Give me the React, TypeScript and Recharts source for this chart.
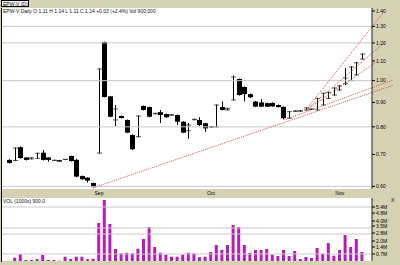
import { ComposedChart, Bar, XAxis, YAxis, ReferenceLine } from 'recharts';

// daily candles, oldest first
const opens = [
  0.682, 0.68, 0.725, 0.69, 0.685, 0.687, 0.706, 0.69, 0.68, 0.681, 0.683, 0.695, 0.682, 0.631, 0.626, 0.61,
  0.705, 1.205, 0.927, 0.827, 0.843, 0.827, 0.769, 0.763, 0.885, 0.88, 0.852, 0.859, 0.851, 0.846, 0.847, 0.82,
  0.785, 0.828, 0.827, 0.814, 0.799, 0.8, 0.88, 0.868, 0.911, 1.008, 0.97, 0.937, 0.904, 0.9, 0.897, 0.898,
  0.889, 0.881, 0.834, 0.862, 0.863, 0.868, 0.87, 0.868, 0.889, 0.918, 0.933, 0.956, 0.985, 1.0, 1.028, 1.11,
];
const highs = [
  0.684, 0.724, 0.728, 0.691, 0.69, 0.706, 0.715, 0.691, 0.682, 0.682, 0.685, 0.696, 0.686, 0.632, 0.627, 0.611,
  1.06, 1.208, 0.928, 0.889, 0.845, 0.829, 0.771, 0.845, 0.887, 0.882, 0.856, 0.868, 0.853, 0.849, 0.849, 0.822,
  0.815, 0.832, 0.838, 0.816, 0.802, 0.891, 0.905, 0.877, 1.025, 1.01, 0.972, 0.94, 0.906, 0.915, 0.899, 0.9,
  0.891, 0.883, 0.862, 0.866, 0.866, 0.878, 0.874, 0.92, 0.943, 0.948, 0.968, 0.978, 1.063, 1.073, 1.095, 1.14,
];
const lows = [
  0.67, 0.678, 0.686, 0.68, 0.684, 0.686, 0.68, 0.676, 0.679, 0.679, 0.682, 0.677, 0.627, 0.62, 0.611, 0.596,
  0.703, 0.922, 0.838, 0.803, 0.833, 0.776, 0.715, 0.76, 0.866, 0.838, 0.85, 0.815, 0.836, 0.844, 0.807, 0.776,
  0.755, 0.826, 0.803, 0.781, 0.797, 0.798, 0.866, 0.866, 0.909, 0.93, 0.905, 0.92, 0.88, 0.88, 0.881, 0.882,
  0.879, 0.83, 0.832, 0.861, 0.86, 0.866, 0.869, 0.866, 0.887, 0.915, 0.93, 0.952, 0.979, 0.998, 1.026, 1.108,
];
const closes = [
  0.672, 0.722, 0.688, 0.682, 0.689, 0.704, 0.682, 0.682, 0.681, 0.68, 0.684, 0.678, 0.629, 0.621, 0.617, 0.598,
  1.058, 0.924, 0.84, 0.872, 0.835, 0.778, 0.718, 0.843, 0.868, 0.84, 0.854, 0.847, 0.838, 0.848, 0.82, 0.778,
  0.807, 0.83, 0.807, 0.794, 0.801, 0.889, 0.868, 0.875, 1.018, 0.933, 0.937, 0.923, 0.882, 0.882, 0.882, 0.883,
  0.88, 0.834, 0.861, 0.864, 0.865, 0.877, 0.872, 0.918, 0.941, 0.945, 0.965, 0.975, 1.013, 1.068, 1.09, 1.137,
];
// volume, thousands of shares
const volumes = [
  0, 330, 670, 100, 100, 200, 600, 100, 100, 30, 430, 200, 430, 430, 170, 230,
  3800, 6100, 3700, 1200, 770, 830, 770, 1230, 2200, 3400, 1400, 830, 630, 430, 430, 630,
  830, 770, 380, 430, 900, 1600, 1100, 1600, 3600, 3400, 1600, 830, 1100, 1100, 1200, 630,
  500, 1100, 500, 1000, 200, 400, 300, 1300, 730, 1800, 530, 1100, 2600, 1400, 2200, 900,
];

const priceTicks = [0.6, 0.7, 0.8, 0.9, 1.0, 1.1, 1.2, 1.3, 1.4];
const priceGrid = [0.6, 0.8, 1.0, 1.2, 1.3];
const dateTicks = [16, 36, 59];
const dateLabels = ['Sep', 'Oct', 'Nov'];
const volTicks = [700, 1400, 2000, 2800, 3500, 4000, 4800, 5400];
const volGrid = [700, 2700, 3300, 5400];

// trend lines: [bar index, price] pairs
const trendLines = [
  [[15, 0.596], [68.5, 0.978]],
  [[49, 0.827], [68.5, 1.003]],
  [[52.8, 0.864], [66.7, 1.387]],
  [[52.8, 0.864], [67.1, 1.205]],
  [[52.8, 0.864], [65.5, 1.094]],
];

const data = opens.map((o, i) => ({
  i,
  o,
  h: highs[i],
  l: lows[i],
  c: closes[i],
  v: volumes[i],
}));

const xDomain = [-1.32, 64.75];
const khaki = '#d5d2b3';
const font = '"Liberation Sans", Arial, sans-serif';

function Candle(props: any) {
  const { x, y, width, height, payload } = props;
  if (x == null || y == null || !payload) return null;
  const { o, h, l, c } = payload;
  const cx = Math.round(x + width / 2) + 0.5;
  const span = Math.log(h) - Math.log(l);
  const py = (v: number) => (span > 0 ? y + ((Math.log(h) - Math.log(v)) / span) * height : y);
  if (c < o) {
    const top = py(o);
    const bh = Math.max(py(c) - top, 1.5);
    return (
      <g>
        <line x1={cx} x2={cx} y1={y} y2={y + height} stroke="#000" strokeWidth={1} />
        <rect x={cx - 2.5} y={top} width={5} height={bh} fill="#000" />
      </g>
    );
  }
  return (
    <g>
      <line x1={cx} x2={cx} y1={y} y2={y + Math.max(height, 1)} stroke="#000" strokeWidth={1} />
      <line x1={cx - 2.5} x2={cx + 2.5} y1={py(o)} y2={py(o)} stroke="#333" strokeWidth={0.8} />
      <line x1={cx - 2.5} x2={cx + 2.5} y1={py(c)} y2={py(c)} stroke="#333" strokeWidth={0.8} />
    </g>
  );
}

const tickStyle = { fontSize: 5, fill: '#000', fontFamily: font };

export default function App() {
  return (
    <div style={{ position: 'relative', width: 400, height: 265, background: khaki, fontFamily: font, overflow: 'hidden' }}>
      <style>{'body{margin:0}'}</style>
      {/* panel backgrounds */}
      <div style={{ position: 'absolute', left: 2, top: 8, width: 370, height: 181, background: '#fff' }} />
      <div style={{ position: 'absolute', left: 2, top: 198, width: 370, height: 63, background: '#fff' }} />
      <div style={{ position: 'absolute', left: 1, top: 8, width: 1, height: 254, background: '#000' }} />
      <div
        style={{
          position: 'absolute', left: 1, top: 0, width: 28, height: 7, background: '#fff',
          border: '1px solid #000', fontSize: 5, lineHeight: '7px', paddingLeft: 1, boxSizing: 'border-box',
        }}
      >
        EPW-V (D)
      </div>
      <div style={{ position: 'absolute', left: 3, top: 8, fontSize: 5, lineHeight: '6px', color: '#111', whiteSpace: 'nowrap' }}>
        EPW-V Daily  O 1.11  H 1.14  L 1.11  C 1.14  +0.03 (+2.4%)  Vol 900,000
      </div>
      <div style={{ position: 'absolute', left: 3, top: 198, fontSize: 5, lineHeight: '6px', color: '#111', whiteSpace: 'nowrap' }}>
        VOL  (1000s)  900.0
      </div>
      <div style={{ position: 'absolute', left: 391, top: 196, fontSize: 7, color: '#333' }}>x</div>

      <div style={{ position: 'absolute', left: 0, top: 0 }}>
        <ComposedChart width={400} height={197} data={data} margin={{ top: 8, right: 0, bottom: 0, left: 2 }}>
          <XAxis
            dataKey="i"
            type="number"
            domain={xDomain}
            allowDataOverflow
            ticks={dateTicks}
            tickFormatter={(v) => dateLabels[dateTicks.indexOf(v)] ?? ''}
            height={8}
            axisLine={false}
            tickLine={false}
            tickSize={0}
            tickMargin={2}
            tick={tickStyle}
            interval={0}
          />
          <YAxis
            orientation="right"
            scale="log"
            domain={[0.5925, 1.4204]}
            allowDataOverflow
            ticks={priceTicks}
            tickFormatter={(v) => v.toFixed(2)}
            width={28}
            axisLine={{ stroke: '#222' }}
            tickLine={{ stroke: '#000' }}
            tickSize={3}
            tickMargin={1}
            tick={tickStyle}
            interval={0}
          />
          {priceGrid.map((g) => (
            <ReferenceLine key={g} y={g} stroke="#c8c8c8" strokeWidth={1} />
          ))}
          {trendLines.map((t, k) => (
            <ReferenceLine
              key={k}
              segment={[{ x: t[0][0], y: t[0][1] }, { x: t[1][0], y: t[1][1] }]}
              stroke="#c85a5a"
              strokeDasharray="1 1"
              strokeWidth={1}
              ifOverflow="visible"
            />
          ))}
          <Bar dataKey={(d: any) => [d.l, d.h]} barSize={5} shape={Candle} isAnimationActive={false} />
        </ComposedChart>
      </div>

      <div style={{ position: 'absolute', left: 0, top: 197 }}>
        <ComposedChart width={400} height={65} data={data} margin={{ top: 1, right: 0, bottom: 1, left: 2 }}>
          <XAxis dataKey="i" type="number" domain={xDomain} allowDataOverflow hide />
          <YAxis
            orientation="right"
            domain={[0, 6300]}
            allowDataOverflow
            ticks={volTicks}
            tickFormatter={(v) => `${(v / 1000).toFixed(1)}M`}
            width={28}
            axisLine={{ stroke: '#222' }}
            tickLine={{ stroke: '#000' }}
            tickSize={3}
            tickMargin={1}
            tick={tickStyle}
            interval={0}
          />
          {volGrid.map((g) => (
            <ReferenceLine key={g} y={g} stroke="#c8c8c8" strokeWidth={1} />
          ))}
          <Bar dataKey="v" barSize={3} fill="#b81cb8" isAnimationActive={false} />
        </ComposedChart>
      </div>
    </div>
  );
}
